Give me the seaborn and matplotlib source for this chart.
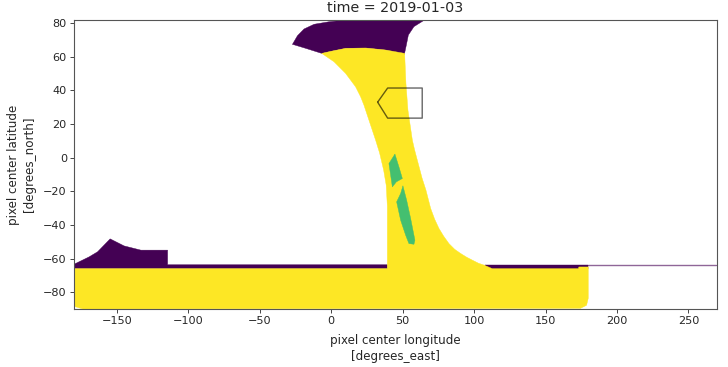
import matplotlib
matplotlib.use('Agg')
import matplotlib.pyplot as plt
import pandas as pd
import seaborn as sns

# outlines, as lon / lat vertices
cap_lon = [-27.1, -23.6, -19, -12, -1.5, 10.1, 65.4, 64.2, 57.9, 54, 52.6, 51.2, 38.1, 24.1, 10.1, 0.8, -6.6, -17.8]
cap_lat = [67.4, 72.5, 76.5, 79.3, 80.8, 81.85, 81.85, 81.25, 77.9, 72.9, 67, 61.4, 64, 65.2, 65, 63.4, 62, 65]

hill_lon = [-180, -169.4, -163.5, -154.7, -144.9, -133.2, -114.5, -114.5, 39.3, 39.3, -180]
hill_lat = [-63.4, -59, -56, -48.3, -52.5, -55, -55, -63.7, -63.7, -66, -66]

band_lon = [107.3, 180, 180, 107.3]
band_lat = [-63.7, -63.7, -66, -66]

yellow_lon = [-6.6, 2, 10.1, 13.6, 17.1, 20.6, 22.9, 27.6, 31.1, 33.9, 36.7, 38.5, 39.3, 39.3, -180, -180, -173.8,
              174.5, 178.7, 179.9, 179.9, 173.3, 173, 112.7, 107.3, 103.1, 98.9, 94.8, 90.6, 86.4, 82.4, 78.7, 75.4,
              72.4, 69.6, 66.3, 63.6, 61.2, 58.4, 56.8, 53.7, 52.3, 51.4, 38.1, 24.1, 10.1, 0.8]
yellow_lat = [62, 57, 50.1, 46.1, 42.1, 36.2, 31.3, 19.3, 10.4, 2.7, -7.4, -16.4, -28.9, -66, -66, -88.4, -90,
              -89.6, -87.8, -83.6, -65, -65, -66, -66, -64, -62.8, -61, -59.2, -57, -54.5, -51.1, -46.7, -42.1,
              -36.6, -30.2, -19.3, -12.2, -4.5, 4.5, 10.4, 28.3, 44.2, 62, 64, 65.2, 65, 63.4]

green_a_lon = [44.6, 40.4, 42.8, 45.6, 49.8, 47.4]
green_a_lat = [2.1, -3.5, -17.4, -14.4, -12.4, -5.5]

green_b_lon = [50.2, 48.6, 45.8, 48.6, 52.1, 54.4, 57.9, 58.6, 55.6, 52.8]
green_b_lat = [-16.8, -21.3, -26.3, -37.2, -46.1, -51.1, -51.5, -49.1, -36.2, -25.3]

line_lon = [180, 269]
line_lat = [-64, -64]

box_lon = [32.5, 39.5, 63.7, 63.7, 39.5, 32.5]
box_lat = [33, 41.4, 41.4, 23.5, 23.5, 33]

x_ticks = [-150, -100, -50, 0, 50, 100, 150, 200, 250]
y_ticks = [-80, -60, -40, -20, 0, 20, 40, 60, 80]

sns.set_style('ticks')
plt.rcParams['font.family'] = ['DejaVu Sans']
viridis = sns.color_palette('viridis', as_cmap=True)
purple, green, yellow = viridis(0.0), viridis(0.7), viridis(1.0)

fig = plt.figure(figsize=(7.28, 3.67), dpi=100)
ax = fig.add_axes([74 / 728, 1 - 309 / 367, 643 / 728, 289 / 367])


def draw(lon, lat, color, z, closed=True, **kw):
    df = pd.DataFrame({'lon': lon, 'lat': lat})
    if closed:
        df = pd.concat([df, df.iloc[:1]], ignore_index=True)
        ax.fill(df['lon'], df['lat'], color=color, lw=0, zorder=z)
        kw.setdefault('lw', 0.3)
    sns.lineplot(data=df, x='lon', y='lat', sort=False, estimator=None, color=color, ax=ax, zorder=z, **kw)


draw(cap_lon, cap_lat, purple, 1)
draw(hill_lon, hill_lat, purple, 1)
draw(band_lon, band_lat, purple, 1)
draw(yellow_lon, yellow_lat, yellow, 2)
draw(green_a_lon, green_a_lat, green, 3)
draw(green_b_lon, green_b_lat, green, 3)
draw(line_lon, line_lat, purple, 4, closed=False, lw=1, alpha=0.6)
draw(box_lon, box_lat, 'black', 4, closed=False, lw=1, alpha=0.6)

ax.set_xlim(-180, 270)
ax.set_ylim(-90, 81.85)
ax.set_xticks(x_ticks)
ax.set_yticks(y_ticks)
ax.tick_params(labelsize=8.1, length=2.6, width=0.7, color='#444444', pad=2.5)
for s in ax.spines.values():
    s.set_linewidth(0.8)
    s.set_color('#555555')
ax.set_xlabel('pixel center longitude\n[degrees_east]', fontsize=8.6, labelpad=5.5, linespacing=1.35)
ax.set_ylabel('pixel center latitude\n[degrees_north]', fontsize=8.6, labelpad=5, linespacing=1.35)
ax.set_title('time = 2019-01-03', fontsize=10.3, pad=5.5)

fig.savefig('out.png', dpi=100)
